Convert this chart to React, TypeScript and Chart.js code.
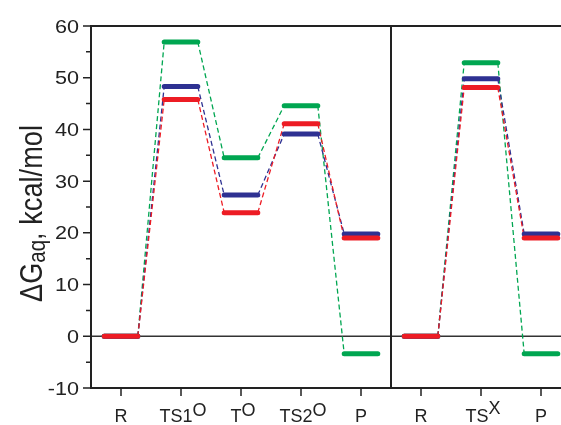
import React, { useEffect, useRef } from 'react';
import { Chart, registerables } from 'chart.js';

Chart.register(...registerables);

// ---- data ----
const categories = ['R', 'TS1', 'T', 'TS2', 'P', 'R', 'TS', 'P'];
const superscripts = ['', 'O', 'O', 'O', '', '', 'X', ''];
const panelEnds = [4, 7]; // last category index of each panel
const redValues = [0, 45.8, 23.9, 41.1, 19.0, 0, 48.1, 19.0];
const blueValues = [0, 48.3, 27.3, 39.1, 19.8, 0, 49.8, 19.8];
const greenValues = [0, 56.9, 34.5, 44.6, -3.4, 0, 52.9, -3.4];
const yTicks = [-10, 0, 10, 20, 30, 40, 50, 60];
const yMinorTicks = [-5, 5, 15, 25, 35, 45, 55];

const RED = '#ED1C24';
const BLUE = '#2E3192';
const GREEN = '#00A651';
const FONT = 'Arial, "Liberation Sans", Helvetica, sans-serif';
const INK = '#222';
const HALF = 0.28;

function buildLevels(vals: number[]) {
  const pts: any[] = [];
  vals.forEach((v, i) => {
    pts.push({ x: i - HALF, y: v }, { x: i + HALF, y: v });
    if (i < vals.length - 1) pts.push({ x: i + 0.5, y: null });
  });
  return pts;
}

function buildConnectors(vals: number[]) {
  const pts: any[] = [];
  let start = 0;
  panelEnds.forEach((end) => {
    for (let i = start; i < end; i++) {
      pts.push({ x: i + HALF, y: vals[i] }, { x: i + 1 - HALF, y: vals[i + 1] });
      pts.push({ x: i + 1, y: null });
    }
    start = end + 1;
  });
  return pts;
}

const framePlugin = {
  id: 'frame',
  beforeDatasetsDraw(chart: any) {
    const { ctx, chartArea, scales } = chart;
    const xs = scales.x;
    const ys = scales.y;
    const L = chartArea.left;
    const R = chartArea.right;
    const T = chartArea.top;
    const B = chartArea.bottom;
    ctx.save();
    // zero line
    ctx.strokeStyle = '#333';
    ctx.lineWidth = 1.5;
    const y0 = ys.getPixelForValue(0);
    ctx.beginPath();
    ctx.moveTo(L, y0);
    ctx.lineTo(R, y0);
    ctx.stroke();
    // frame
    ctx.strokeStyle = INK;
    ctx.lineWidth = 2;
    ctx.beginPath();
    ctx.moveTo(L, T);
    ctx.lineTo(R, T);
    ctx.moveTo(L, B);
    ctx.lineTo(R, B);
    ctx.moveTo(L, T - 1);
    ctx.lineTo(L, B + 1);
    const xd = xs.getPixelForValue(panelEnds[0] + 0.5);
    ctx.moveTo(xd, T);
    ctx.lineTo(xd, B);
    ctx.stroke();
    // y ticks
    ctx.lineWidth = 1.5;
    ctx.beginPath();
    yTicks.forEach((v) => {
      const y = ys.getPixelForValue(v);
      ctx.moveTo(L - 8, y);
      ctx.lineTo(L, y);
    });
    yMinorTicks.forEach((v) => {
      const y = ys.getPixelForValue(v);
      ctx.moveTo(L - 5, y);
      ctx.lineTo(L, y);
    });
    // x ticks
    categories.forEach((_, i) => {
      const x = xs.getPixelForValue(i);
      ctx.moveTo(x, B);
      ctx.lineTo(x, B + 8);
    });
    ctx.stroke();

    // y labels
    ctx.fillStyle = INK;
    ctx.font = `18px ${FONT}`;
    ctx.textAlign = 'right';
    ctx.textBaseline = 'alphabetic';
    yTicks.forEach((v) => {
      const y = ys.getPixelForValue(v);
      ctx.save();
      ctx.translate(L - 12, y + 6.5);
      ctx.scale(1.2, 1);
      ctx.fillText(String(v), 0, 0);
      ctx.restore();
    });

    // x labels
    ctx.textAlign = 'left';
    categories.forEach((c, i) => {
      const x = xs.getPixelForValue(i);
      ctx.font = `18px ${FONT}`;
      const w1 = ctx.measureText(c).width;
      const sup = superscripts[i];
      const w2 = sup ? ctx.measureText(sup).width : 0;
      const sx = x - (w1 + w2) / 2 + (sup ? 2 : 0);
      const by = B + 34;
      ctx.fillText(c, sx, by);
      if (sup) ctx.fillText(sup, sx + w1, by - (sup === 'X' ? 8 : 6));
    });

    // y title
    const mainFont = `24px ${FONT}`;
    const subFont = `18px ${FONT}`;
    const p1 = '\u0394G';
    const p2 = 'aq';
    const p3 = ', kcal/mol';
    ctx.font = mainFont;
    const w1 = ctx.measureText(p1).width;
    const w3 = ctx.measureText(p3).width;
    ctx.font = subFont;
    const w2 = ctx.measureText(p2).width;
    const total = w1 + w2 + w3;
    const along = 177 / total;
    ctx.save();
    ctx.translate(42, 302);
    ctx.rotate(-Math.PI / 2);
    ctx.scale(along, 1.28);
    ctx.font = mainFont;
    ctx.fillText(p1, 0, 0);
    ctx.font = subFont;
    ctx.fillText(p2, w1, 2);
    ctx.font = mainFont;
    ctx.fillText(p3, w1 + w2, 0);
    ctx.restore();

    ctx.restore();
  },
};

export default function App() {
  const ref = useRef<HTMLCanvasElement>(null);
  useEffect(() => {
    const series = [
      { vals: redValues, color: RED, order: 0 },
      { vals: blueValues, color: BLUE, order: 1 },
      { vals: greenValues, color: GREEN, order: 2 },
    ];
    const datasets: any[] = [];
    series.forEach((s) => {
      datasets.push({
        data: buildLevels(s.vals),
        borderColor: s.color,
        borderWidth: 5,
        borderCapStyle: 'round',
        pointRadius: 0,
        spanGaps: false,
        order: s.order,
      });
    });
    series.forEach((s) => {
      datasets.push({
        data: buildConnectors(s.vals),
        borderColor: s.color,
        borderWidth: 1.3,
        borderDash: [5, 3],
        pointRadius: 0,
        spanGaps: false,
        order: 3 + s.order,
      });
    });
    const chart = new Chart(ref.current as HTMLCanvasElement, {
      type: 'line',
      data: { datasets },
      options: {
        animation: false,
        responsive: false,
        devicePixelRatio: 1,
        layout: { padding: { left: 91, top: 26, right: 9, bottom: 37 } },
        plugins: { legend: { display: false }, tooltip: { enabled: false } },
        scales: {
          x: { type: 'linear', min: -0.5, max: 7.5, display: false },
          y: { type: 'linear', min: -10, max: 60, display: false },
        },
      },
      plugins: [framePlugin],
    } as any);
    return () => chart.destroy();
  }, []);
  return (
    <div
      style={{
        position: 'fixed',
        left: 0,
        top: 0,
        width: 561,
        height: 425,
        overflow: 'hidden',
        background: '#fff',
      }}
    >
      <canvas ref={ref} width={580} height={425} style={{ display: 'block', width: 580, height: 425 }} />
    </div>
  );
}
